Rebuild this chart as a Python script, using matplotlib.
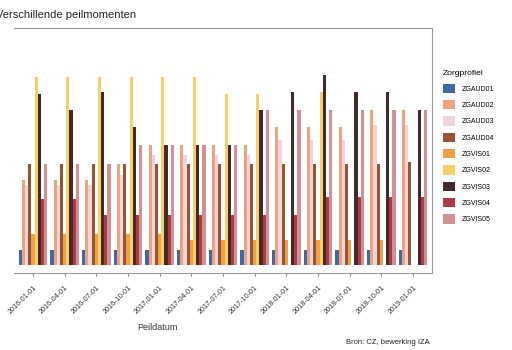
"""Zorgprofielen per peildatum (gegroepeerde staven, 13 peilmomenten)."""
import numpy as np
import matplotlib

matplotlib.use("Agg")
import matplotlib.pyplot as plt
from matplotlib.patches import Patch

plt.rcParams["font.family"] = ["Liberation Sans", "DejaVu Sans"]

peildata = [
    "2016-01-01", "2016-04-01", "2016-07-01", "2016-10-01", "2017-01-01",
    "2017-04-01", "2017-07-01", "2017-10-01", "2018-01-01", "2018-04-01",
    "2018-07-01", "2018-10-01", "2019-01-01",
]
profielen = ["ZGAUD01", "ZGAUD02", "ZGAUD03", "ZGAUD04", "ZGVIS01",
             "ZGVIS02", "ZGVIS03", "ZGVIS04", "ZGVIS05"]
kleuren = ["#3d6aa3", "#eea27e", "#f2d3da", "#96542f", "#eea14c",
           "#f6cf66", "#45292a", "#ad3b45", "#d48f92"]

zgaud01 = [15, 15, 15, 15, 15, 15, 15, 15, 15, 15, 15, 15, 15]
zgaud02 = [85, 85, 85, 101, 120, 120, 120, 120, 138, 138, 138, 155, 155]
zgaud03 = [80, 80, 80, 90, 110, 110, 110, 110, 125, 125, 125, 140, 140]
zgaud04 = [101, 101, 101, 101, 101, 101, 101, 101, 101, 101, 101, 101, 103]
zgvis01 = [31, 31, 31, 31, 31, 25, 25, 25, 25, 25, 25, 25, 0]
zgvis02 = [188, 188, 188, 188, 188, 188, 171, 171, 0, 173, 0, 0, 0]
zgvis03 = [171, 155, 173, 138, 120, 120, 120, 155, 173, 190, 173, 173, 155]
zgvis04 = [66, 66, 50, 50, 50, 50, 50, 50, 50, 68, 68, 68, 68]
zgvis05 = [101, 101, 101, 120, 120, 120, 120, 155, 155, 155, 155, 155, 155]

reeksen = [zgaud01, zgaud02, zgaud03, zgaud04, zgvis01,
           zgvis02, zgvis03, zgvis04, zgvis05]

fig = plt.figure(figsize=(5.12, 3.5), dpi=100)
ax = fig.add_axes([14 / 512, 1 - 273 / 350, (432 - 14) / 512, (273 - 28) / 350])

x = np.arange(len(peildata))
breedte = 0.9 / len(profielen)
for i, (naam, waarden, kleur) in enumerate(zip(profielen, reeksen, kleuren)):
    offset = -0.45 + breedte * (i + 0.5)
    ax.bar(x + offset, waarden, width=breedte, color=kleur, linewidth=0, label=naam)

ax.set_xlim(-0.6, len(peildata) - 0.4)
ax.set_ylim(-8, 237)
ax.set_yticks([])
ax.set_xticks(x)
ax.set_xticklabels(peildata, rotation=45, ha="right", rotation_mode="anchor",
                   fontsize=5.2, color="#333333")
ax.tick_params(axis="x", length=2, color="#888888", pad=6)
for side in ("top", "right", "bottom"):
    ax.spines[side].set_color("#999999")
    ax.spines[side].set_linewidth(0.8)
ax.spines["left"].set_visible(False)

fig.text(-0.008, 1 - 15 / 350, "Verschillende peilmomenten", fontsize=8,
         color="#222222", va="center", ha="left")
fig.text(157 / 512, 1 - 328 / 350, "Peildatum", fontsize=6.5, color="#333333",
         ha="center", va="center")
fig.text(430 / 512, 1 - 342 / 350, "Bron: CZ, bewerking IZA", fontsize=5.5,
         color="#222222", ha="right", va="center")

handles = [Patch(facecolor=k, edgecolor="none") for k in kleuren]
leg = fig.legend(handles, profielen, title="Zorgprofiel", loc="upper left",
                 bbox_to_anchor=(440 / 512, 1 - 67 / 350), frameon=False,
                 fontsize=5, title_fontsize=6, handlelength=1.8, handleheight=1.7,
                 labelspacing=1.0, handletextpad=1.0, borderaxespad=0)
leg._legend_box.align = "left"

fig.savefig("out.png", dpi=100)
